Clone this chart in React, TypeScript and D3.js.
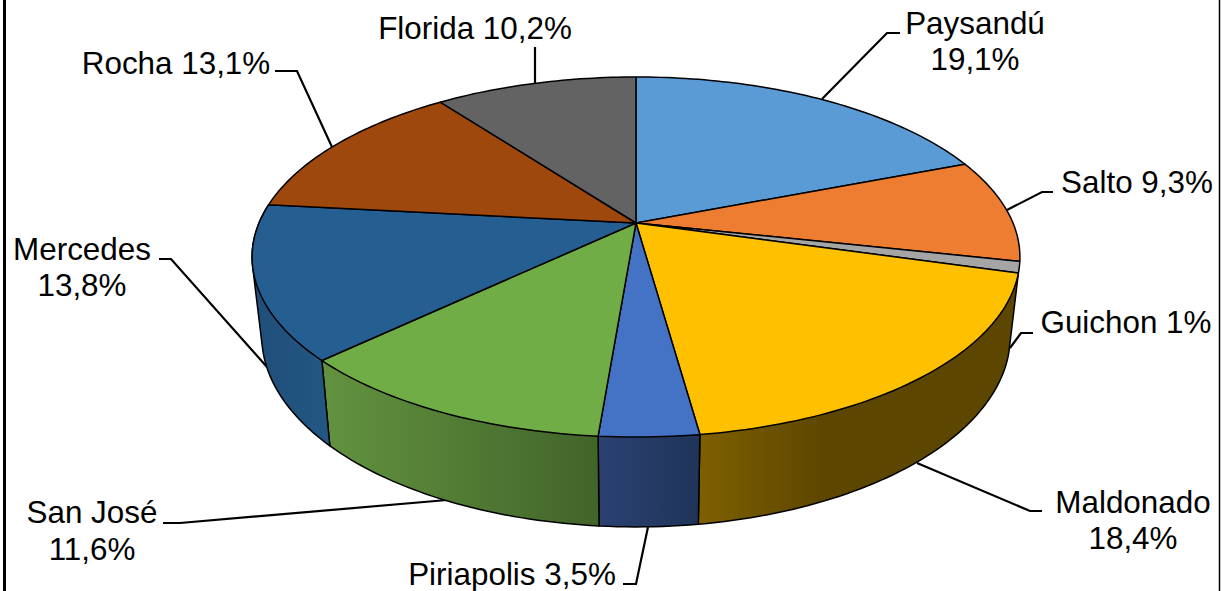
import * as d3 from "d3";

const categories = ["Paysandú", "Salto", "Guichon", "Maldonado", "Piriapolis", "San José", "Mercedes", "Rocha", "Florida"];
const shares = [19.1, 9.3, 1, 18.4, 3.5, 11.6, 13.8, 13.1, 10.2];
const colors = ["#5b9bd5", "#ed7d31", "#a5a5a5", "#ffc000", "#4472c4", "#70ad47", "#255e91", "#9e480e", "#636363"];
// only the slices facing the viewer show a wall
const wallColors: Record<string, [string, string]> = {
	Maldonado: ["#7f6000", "#5c4600"],
	Piriapolis: ["#2a4272", "#203459"],
	"San José": ["#62933f", "#42642a"],
	Mercedes: ["#1f4e79", "#235783"],
};

const width = 1221;
const height = 591;

// ---- Perspective of the pie disc ----
const cx = 636;
const tilt = -0.189;
const topDisc = { cy: 223, rx: 377, ry: 173.6 };
const baseDisc = { cy: 300, rx: 367.5, ry: 184 };

function project(disc: { cy: number; rx: number; ry: number }, angle: number): [number, number] {
	const X = Math.sin(angle);
	const Y = -Math.cos(angle);
	const w = 1 + tilt * Y;
	return [cx + (disc.rx * X) / w, disc.cy + (disc.ry * Y) / w];
}

function arcPoints(disc: { cy: number; rx: number; ry: number }, a0: number, a1: number) {
	const n = Math.max(2, Math.ceil((a1 - a0) / 0.02));
	return d3.range(n + 1).map((i) => project(disc, a0 + ((a1 - a0) * i) / n));
}

// ---- Labels ----
const labels = [
	{ lines: ["Paysandú", "19,1%"], x: 975, y: [34, 70], leader: [[900, 33], [887, 33], [822, 99]] },
	{ lines: ["Salto 9,3%"], x: 1137, y: [193], leader: [[1053, 192], [1042, 192], [1007, 210]] },
	{ lines: ["Guichon 1%"], x: 1126, y: [333], leader: [[1033, 333], [1021, 333], [1010, 348]] },
	{ lines: ["Maldonado", "18,4%"], x: 1133, y: [513, 549], leader: [[1042, 511], [1030, 511], [917, 463]] },
	{ lines: ["Piriapolis 3,5%"], x: 512, y: [585], leader: [[623, 584], [636, 584], [648, 527]] },
	{ lines: ["San José", "11,6%"], x: 92, y: [523, 560], leader: [[163, 523], [180, 523], [447, 500]] },
	{ lines: ["Mercedes", "13,8%"], x: 82, y: [260, 296], leader: [[159, 259], [171, 259], [267, 367]] },
	{ lines: ["Rocha 13,1%"], x: 176, y: [74], leader: [[275, 71], [297, 71], [332, 147]] },
	{ lines: ["Florida 10,2%"], x: 475, y: [39], leader: [[535, 47], [535, 83]] },
];

const pie = d3
	.pie<number>()
	.sort(null)
	.startAngle(0)
	.endAngle(2 * Math.PI);

export default function App() {
	const slices = pie(shares).map((s, i) => ({ ...s, name: categories[i], color: colors[i] }));
	const line = d3.line();
	const center: [number, number] = [cx, topDisc.cy];

	const walls = slices
		.filter((s) => wallColors[s.name])
		.map((s) => {
			const pts = [...arcPoints(topDisc, s.startAngle, s.endAngle), ...arcPoints(baseDisc, s.startAngle, s.endAngle)];
			const hull = d3.polygonHull(pts as [number, number][])!;
			const xs = d3.extent(pts, (p) => p[0]) as [number, number];
			return { ...s, hull, xs };
		});

	return (
		<svg width={width} height={height} style={{ position: "absolute", left: 0, top: 0, background: "#fff" }}>
			<defs>
				{walls.map((w, i) => (
					<linearGradient key={w.name} id={`wall${i}`} gradientUnits="userSpaceOnUse" x1={w.xs[1]} x2={w.xs[0]} y1={0} y2={0}>
						<stop offset={w.name === "Maldonado" ? "0.6" : "0"} stopColor={wallColors[w.name][1]} />
						<stop offset="1" stopColor={wallColors[w.name][0]} />
					</linearGradient>
				))}
			</defs>

			{/* frame */}
			<line x1={4.5} x2={4.5} y1={0} y2={height} stroke="#000" strokeWidth={3} />
			<line x1={1219.5} x2={1219.5} y1={0} y2={height} stroke="#000" strokeWidth={1.5} />

			{/* leaders sit behind the pie */}
			{labels.map((l) => (
				<path key={l.lines[0]} d={line(l.leader as [number, number][])!} fill="none" stroke="#000" strokeWidth={2.2} />
			))}

			{walls.map((w, i) => (
				<path key={w.name} d={line(w.hull)! + "Z"} fill={`url(#wall${i})`} stroke="#000" strokeWidth={1.5} strokeLinejoin="round" />
			))}

			{slices.map((s) => (
				<path
					key={s.name}
					d={line([center, ...arcPoints(topDisc, s.startAngle, s.endAngle)])! + "Z"}
					fill={s.color}
					stroke="#000"
					strokeWidth={1.5}
					strokeLinejoin="round"
				/>
			))}

			{labels.map((l) => (
				<text key={l.lines[0]} textAnchor="middle" fontFamily="Liberation Sans, Arial, sans-serif" fontSize={31.4} fill="#000">
					{l.lines.map((t, i) => (
						<tspan key={t} x={l.x} y={l.y[i]}>
							{t}
						</tspan>
					))}
				</text>
			))}
		</svg>
	);
}
